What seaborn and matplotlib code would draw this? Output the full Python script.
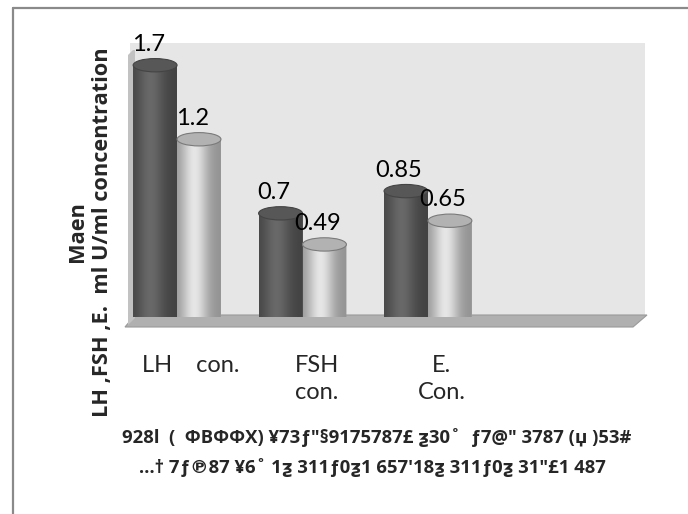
import numpy as np
import pandas as pd
import matplotlib.pyplot as plt
import matplotlib.patches as mpatches
import matplotlib.transforms as mtransforms
import seaborn as sns

# values
categories = ['LH    con.', 'FSH\ncon.', 'E.\nCon.']
dark_vals = [1.7, 0.7, 0.85]
light_vals = [1.2, 0.49, 0.65]
dark_labels = ['1.7', '0.7', '0.85']
light_labels = ['1.2', '0.49', '0.65']
y_title = 'Maen\nLH ,FSH ,E.  ml U/ml concentration'
foot_1 = '928l  (  ΦBΦΦX) ¥73ƒ"§9175787£ ƺ30˚  ƒ7@" 3787 (џ )53#'
foot_2 = '…† 7ƒ℗87 ¥6˚ 1ƺ 311ƒ0ƺ1 657\'18ƺ 311ƒ0ƺ 31"£1 487'

df = pd.DataFrame({
    'cat': categories * 2,
    'grp': ['a'] * 3 + ['b'] * 3,
    'val': dark_vals + light_vals,
})

sns.set_style('white')
plt.rcParams['font.family'] = ['Lato', 'DejaVu Sans']
bold_font = ['Open Sans', 'DejaVu Sans']

W, H = 688, 514
fig = plt.figure(figsize=(W / 100, H / 100), dpi=100)


def px(x, y):
    return x / W, 1 - y / H


ax = fig.add_axes([130 / W, 1 - 317 / H, 515 / W, 274 / H])
ax.set_facecolor('#e6e6e6')

base_cols = ['#5a5a5a', '#c6c6c6']
sns.barplot(data=df, x='cat', y='val', hue='grp', palette=base_cols,
            width=0.7, ax=ax, legend=False, edgecolor='none', zorder=2)

# floor slab and side wall
floor = mpatches.Polygon([px(125, 327), px(633, 327), px(647, 315), px(135, 315)],
                         closed=True, transform=fig.transFigure, clip_on=False,
                         facecolor='#b0b0b0', edgecolor='#9a9a9a', lw=0.8, zorder=0.5)
ax.add_patch(floor)
side = mpatches.Polygon([px(128, 325), px(128, 55), px(133, 50), px(135, 50), px(135, 318)],
                        closed=True, transform=fig.transFigure, clip_on=False,
                        facecolor='#c2c2c2', edgecolor='none', zorder=0.6)
ax.add_patch(side)

# cylinder shading on top of the seaborn bars
e = 0.045
t = np.linspace(0, 1, 200)
shade = 0.74 + 0.42 * np.exp(-((t - 0.4) / 0.3) ** 2)
bars = [p for p in ax.patches if isinstance(p, mpatches.Rectangle) and p.get_height() > 0]
top_cols = ['#575757', '#b2b2b2']
for i, p in enumerate(bars):
    x0, w, h = p.get_x(), p.get_width(), p.get_height()
    base = np.array(p.get_facecolor()[:3])
    rgb = np.clip(base[None, :] * shade[:, None], 0, 1)
    img = np.repeat(rgb[None, :, :], 2, axis=0)
    ang = np.linspace(np.pi, 2 * np.pi, 40)
    body = [(x0, h), (x0, 0)]
    body += [(x0 + w / 2 + w / 2 * np.cos(a), e * np.sin(a)) for a in ang]
    body += [(x0 + w, h)]
    clip = mpatches.Polygon(body, closed=True, transform=ax.transData,
                            facecolor='none', edgecolor='none')
    ax.add_patch(clip)
    im = ax.imshow(img, extent=[x0, x0 + w, -e, h], aspect='auto', zorder=3)
    im.set_clip_path(clip)
    tc = top_cols[i // 3]
    top = mpatches.Ellipse((x0 + w / 2, h), w, 2 * e, facecolor=tc,
                           edgecolor='#7a7a7a' if i >= 3 else '#444444', lw=0.8, zorder=4)
    ax.add_patch(top)

ax.set_xlim(-0.375, 3.73)
ax.set_ylim(0, 1.85)

# value labels
all_labels = dark_labels + light_labels
for p, lab in zip(bars, all_labels):
    ax.annotate(lab, (p.get_x() + p.get_width() / 2, p.get_height()),
                xytext=(-5, 15), textcoords='offset points',
                ha='center', va='center', fontsize=17, color='black', zorder=6,
                annotation_clip=False)

sns.despine(ax=ax, left=True, bottom=True)
ax.set_yticks([])
ax.set_xlabel('')
ax.set_ylabel('')
ax.tick_params(axis='x', length=0, pad=27, labelsize=17)
offset = mtransforms.ScaledTranslation(14 / 100, 0, fig.dpi_scale_trans)
for lab in ax.get_xticklabels():
    lab.set_linespacing(1.4)
    lab.set_transform(lab.get_transform() + offset)

fig.text(*px(90, 232), y_title, rotation=90, ha='center', va='center',
         multialignment='center', fontsize=15.7, fontweight='bold',
         family=bold_font, linespacing=1.2)
fig.text(*px(377, 438), foot_1, ha='center', va='center', fontsize=13.3,
         fontweight='bold', family=bold_font)
fig.text(*px(372, 468), foot_2, ha='center', va='center', fontsize=13.3,
         fontweight='bold', family=bold_font)

# frame around the picture (left and top edges visible)
fig.add_artist(plt.Line2D([13 / W, 13 / W], [0, 1 - 8 / H], transform=fig.transFigure,
                          color='#8a8a8a', lw=1.6))
fig.add_artist(plt.Line2D([13 / W, 1], [1 - 8 / H, 1 - 8 / H], transform=fig.transFigure,
                          color='#8a8a8a', lw=1.6))

fig.savefig('out.png', dpi=100)
